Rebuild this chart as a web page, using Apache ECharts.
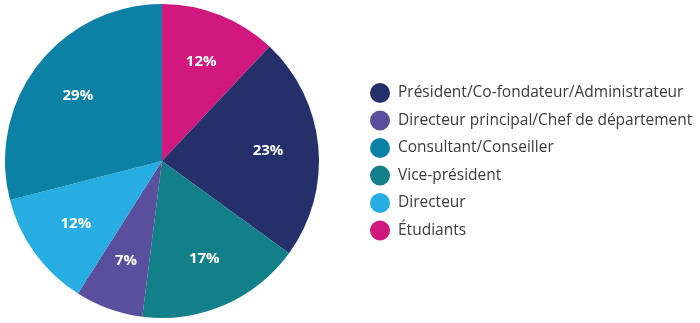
<!DOCTYPE html>
<html>
<head>
<meta charset="utf-8">
<script src="https://cdn.jsdelivr.net/npm/echarts@6/dist/echarts.min.js"></script>
<style>
  html, body { margin: 0; padding: 0; background: #ffffff; }
  #chart { width: 700px; height: 323px; }
</style>
</head>
<body>
<div id="chart"></div>
<script>
// Slices in clockwise order, starting at 12 o'clock
const categories = [
  'Étudiants',
  'Président/Co-fondateur/Administrateur',
  'Vice-président',
  'Directeur principal/Chef de département',
  'Directeur',
  'Consultant/Conseiller'
];
const values = [12, 23, 17, 7, 12, 29];
const colors = ['#d0187f', '#25306b', '#137f89', '#5a4f9c', '#28ade3', '#0d80a6'];

// Legend order
const legendOrder = [
  'Président/Co-fondateur/Administrateur',
  'Directeur principal/Chef de département',
  'Consultant/Conseiller',
  'Vice-président',
  'Directeur',
  'Étudiants'
];

const sliceData = categories.map((name, i) => ({
  name: name,
  value: values[i],
  itemStyle: { color: colors[i] }
}));

// Transparent ring that only carries the percentage labels
const labelData = categories.map((name, i) => ({
  name: name,
  value: values[i],
  itemStyle: { color: 'rgba(0,0,0,0)' }
}));

const chart = echarts.init(document.getElementById('chart'), null, { renderer: 'canvas' });
chart.setOption({
  animation: false,
  legend: {
    orient: 'vertical',
    left: 370,
    top: 83,
    padding: 0,
    icon: 'circle',
    itemWidth: 20,
    itemHeight: 20,
    itemGap: 7.5,
    data: legendOrder,
    selectedMode: false,
    textStyle: {
      fontFamily: 'Open Sans',
      fontSize: 15.5,
      color: '#3b3b3b',
      padding: [0, 0, 0, 3]
    }
  },
  series: [
    {
      type: 'pie',
      center: [162, 161],
      radius: [0, 157],
      startAngle: 90,
      clockwise: true,
      silent: true,
      label: { show: false },
      labelLine: { show: false },
      data: sliceData
    },
    {
      type: 'pie',
      center: [162, 161],
      radius: [50, 157],
      startAngle: 90,
      clockwise: true,
      silent: true,
      label: {
        show: true,
        position: 'inside',
        formatter: '{c}%',
        color: '#ffffff',
        fontFamily: 'Open Sans',
        fontWeight: 'bold',
        fontSize: 15
      },
      labelLine: { show: false },
      data: labelData
    }
  ]
});
</script>
</body>
</html>
